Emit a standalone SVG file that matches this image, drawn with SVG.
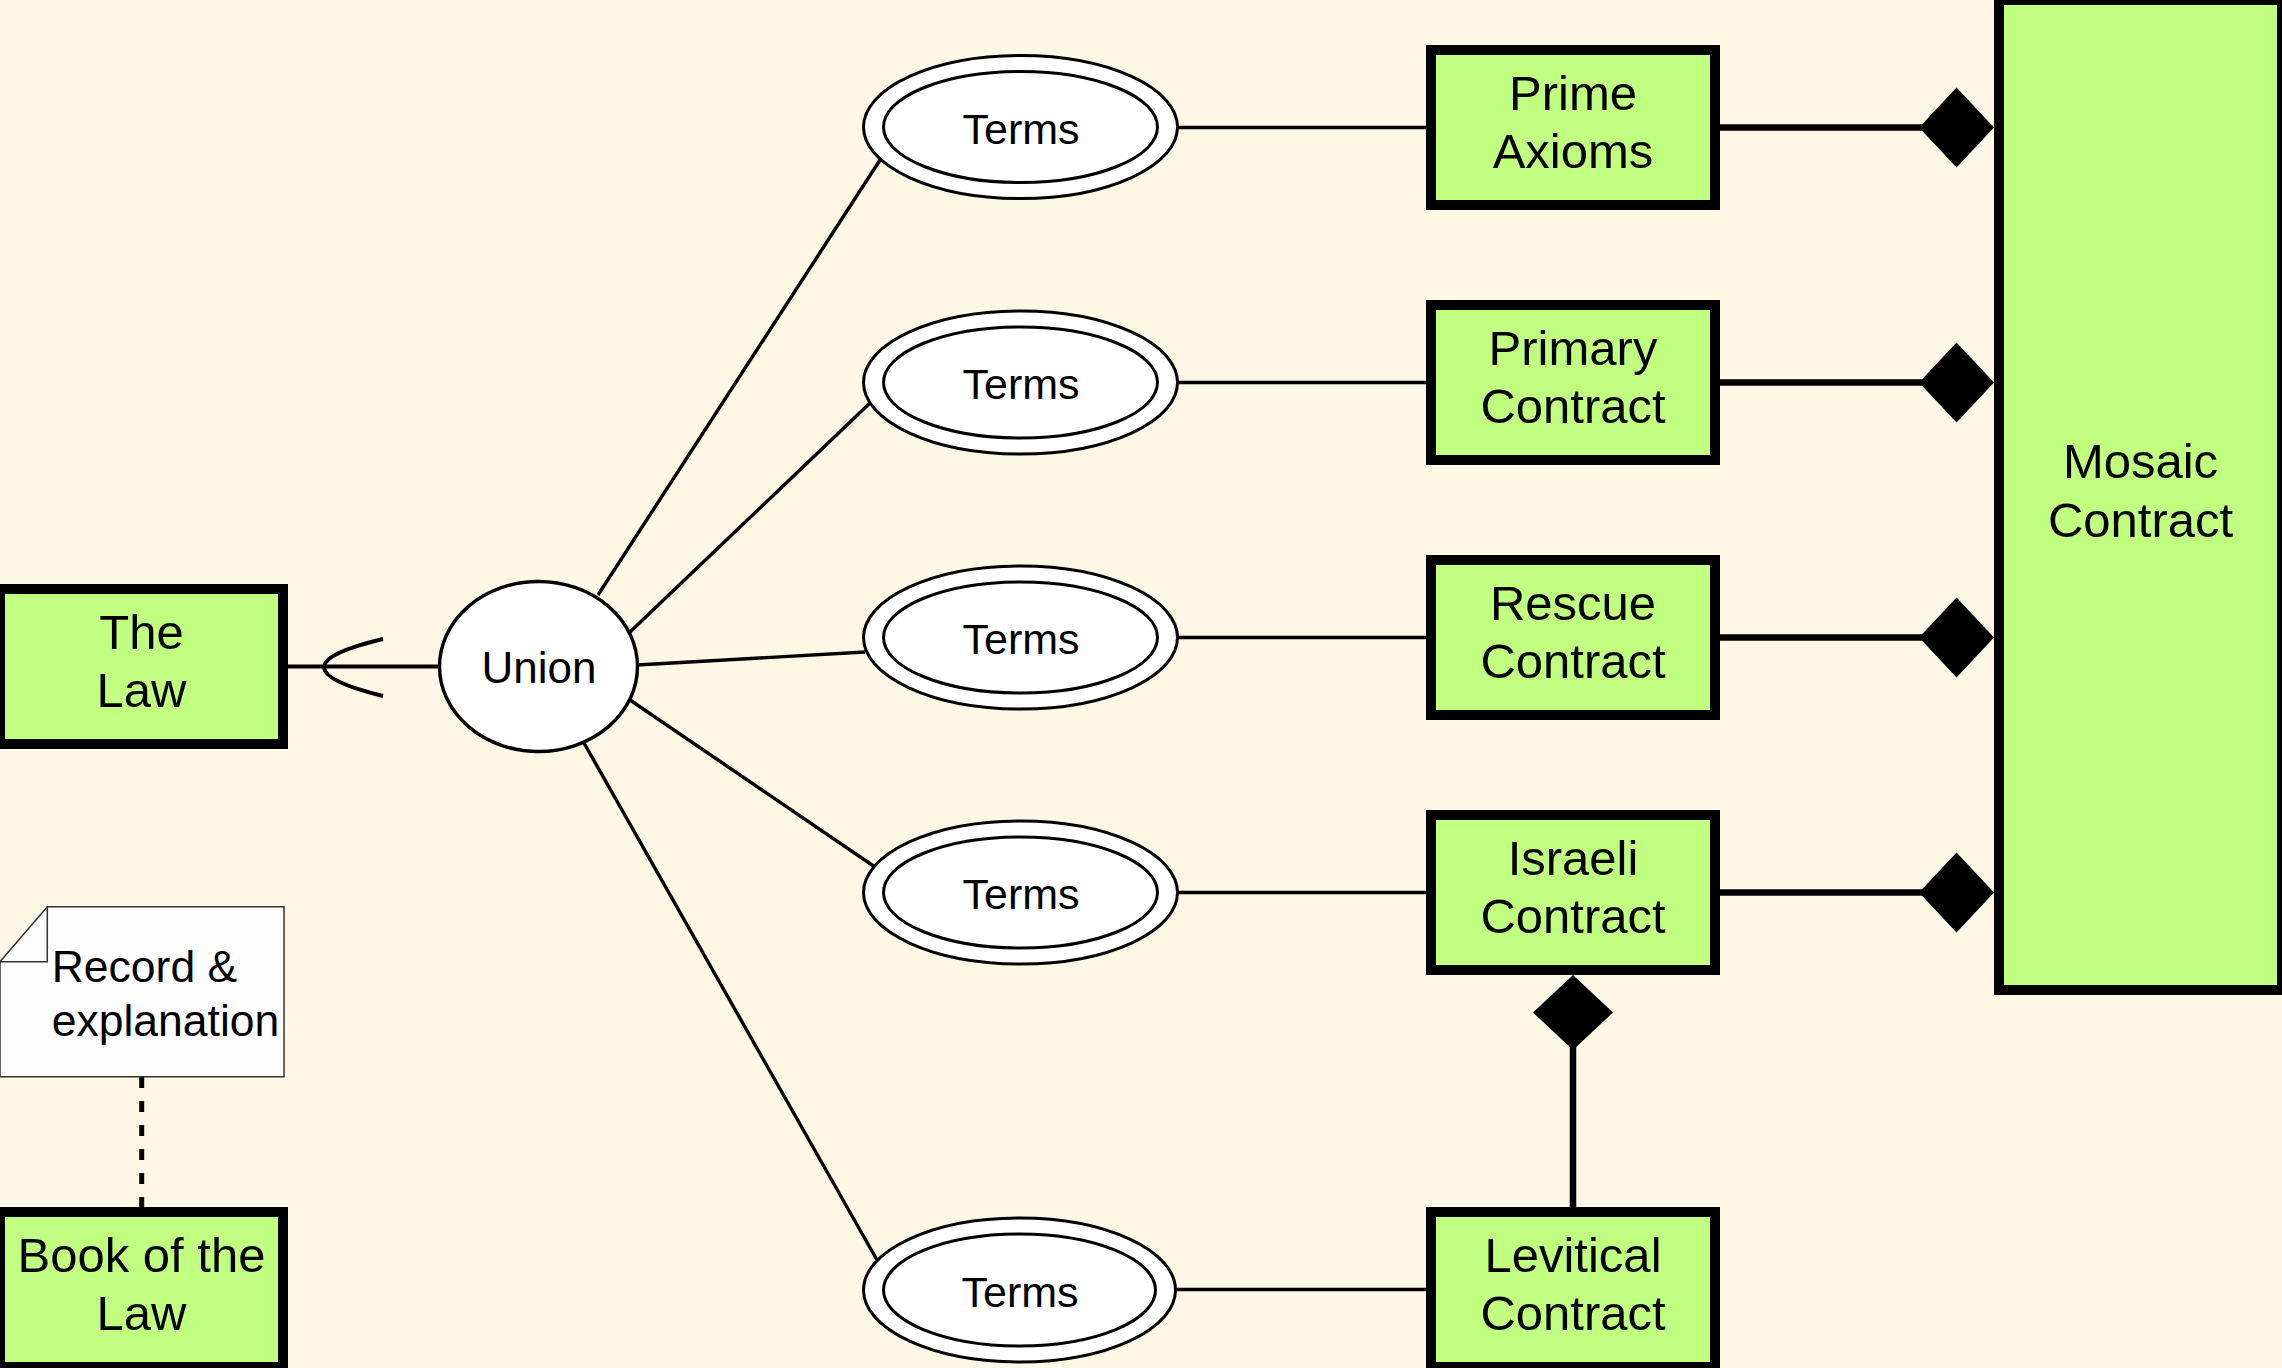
<svg xmlns="http://www.w3.org/2000/svg" width="2282" height="1368" viewBox="0 0 2282 1368">
<style>
.box{fill:#C0FF80;stroke:#000;stroke-width:10}
.t{font-family:"Liberation Sans",Arial,sans-serif;fill:#000}
.bt{font-size:49px;text-anchor:middle}
.tt{font-size:43px;text-anchor:middle}
.el{fill:#fff;stroke:#000;stroke-width:3}
.thin{stroke:#000;stroke-width:3.4;fill:none}
.thick{stroke:#000;stroke-width:6.5;fill:none}
.dia{fill:#000}
</style>
<rect width="2282" height="1368" fill="#FFF7E6"/>
<g id="connectors">
  <line class="thin" x1="288" y1="666.5" x2="440" y2="666.5" style="stroke-width:4"/>
  <path class="thin" d="M383,639 Q265,667 383,696" style="stroke-width:4"/>
  <line class="thin" x1="598" y1="595" x2="880" y2="160"/>
  <line class="thin" x1="630" y1="632" x2="870" y2="403"/>
  <line class="thin" x1="637" y1="665" x2="865" y2="652"/>
  <line class="thin" x1="630" y1="700" x2="875" y2="867"/>
  <line class="thin" x1="584" y1="743" x2="877" y2="1260"/>
  <line class="thin" x1="1177" y1="127.5" x2="1427" y2="127.5"/>
  <line class="thin" x1="1177" y1="382.5" x2="1427" y2="382.5"/>
  <line class="thin" x1="1177" y1="637.5" x2="1427" y2="637.5"/>
  <line class="thin" x1="1177" y1="892.5" x2="1427" y2="892.5"/>
  <line class="thin" x1="1175" y1="1289.5" x2="1427" y2="1289.5"/>
  <line class="thick" x1="1719" y1="127.5" x2="1925" y2="127.5"/>
  <polygon class="dia" points="1919,127.5 1956.5,87.5 1994,127.5 1956.5,167.5"/>
  <line class="thick" x1="1719" y1="382.5" x2="1925" y2="382.5"/>
  <polygon class="dia" points="1919,382.5 1956.5,342.5 1994,382.5 1956.5,422.5"/>
  <line class="thick" x1="1719" y1="637.5" x2="1925" y2="637.5"/>
  <polygon class="dia" points="1919,637.5 1956.5,597.5 1994,637.5 1956.5,677.5"/>
  <line class="thick" x1="1719" y1="892.5" x2="1925" y2="892.5"/>
  <polygon class="dia" points="1919,892.5 1956.5,852.5 1994,892.5 1956.5,932.5"/>
  <line class="thick" x1="1573" y1="1045" x2="1573" y2="1208"/>
  <polygon class="dia" points="1573,975 1613,1012.5 1573,1050 1533,1012.5"/>
  <line x1="141.7" y1="1077" x2="141.7" y2="1207" stroke="#000" stroke-width="5" stroke-dasharray="11 13"/>
</g>
<g id="the-law">
  <rect class="box" x="0" y="589" width="283" height="155"/>
  <text class="t bt" x="141.5" y="648.5">The</text>
  <text class="t bt" x="141.5" y="707">Law</text>
</g>
<g id="union">
  <ellipse cx="538.5" cy="666.5" rx="99" ry="85" fill="#fff" stroke="#000" stroke-width="3.4"/>
  <text class="t" x="539" y="683" font-size="44" text-anchor="middle">Union</text>
</g>
<g id="terms1">
  <ellipse class="el" cx="1020.5" cy="127" rx="157" ry="71.5"/>
  <ellipse class="el" cx="1020.5" cy="127" rx="137" ry="55.5"/>
  <text class="t tt" x="1021" y="143.5">Terms</text>
</g>
<g id="terms2">
  <ellipse class="el" cx="1020.5" cy="382.5" rx="157" ry="71.5"/>
  <ellipse class="el" cx="1020.5" cy="382.5" rx="137" ry="55.5"/>
  <text class="t tt" x="1021" y="399">Terms</text>
</g>
<g id="terms3">
  <ellipse class="el" cx="1020.5" cy="637.5" rx="157" ry="71.5"/>
  <ellipse class="el" cx="1020.5" cy="637.5" rx="137" ry="55.5"/>
  <text class="t tt" x="1021" y="654">Terms</text>
</g>
<g id="terms4">
  <ellipse class="el" cx="1020.5" cy="892.5" rx="157" ry="71.5"/>
  <ellipse class="el" cx="1020.5" cy="892.5" rx="137" ry="55.5"/>
  <text class="t tt" x="1021" y="909">Terms</text>
</g>
<g id="terms5">
  <ellipse class="el" cx="1019.5" cy="1290" rx="156" ry="72"/>
  <ellipse class="el" cx="1019.5" cy="1290" rx="136" ry="56"/>
  <text class="t tt" x="1020" y="1306.5">Terms</text>
</g>
<g id="prime-axioms">
  <rect class="box" x="1431" y="50" width="284" height="155"/>
  <text class="t bt" x="1573" y="110">Prime</text>
  <text class="t bt" x="1573" y="168.3">Axioms</text>
</g>
<g id="primary-contract">
  <rect class="box" x="1431" y="305" width="284" height="155"/>
  <text class="t bt" x="1573" y="365">Primary</text>
  <text class="t bt" x="1573" y="423.3">Contract</text>
</g>
<g id="rescue-contract">
  <rect class="box" x="1431" y="560" width="284" height="155"/>
  <text class="t bt" x="1573" y="620">Rescue</text>
  <text class="t bt" x="1573" y="678.3">Contract</text>
</g>
<g id="israeli-contract">
  <rect class="box" x="1431" y="815" width="284" height="155"/>
  <text class="t bt" x="1573" y="875">Israeli</text>
  <text class="t bt" x="1573" y="933.3">Contract</text>
</g>
<g id="levitical-contract">
  <rect class="box" x="1431" y="1212" width="284" height="155"/>
  <text class="t bt" x="1573" y="1272">Levitical</text>
  <text class="t bt" x="1573" y="1330.3">Contract</text>
</g>
<g id="mosaic-contract">
  <rect class="box" x="1999" y="0" width="283" height="990"/>
  <text class="t bt" x="2140.5" y="478.3">Mosaic</text>
  <text class="t bt" x="2140.5" y="536.7">Contract</text>
</g>
<g id="note">
  <path d="M47.3,906.7 H284 V1076.7 H0 V961.7 Z" fill="#FDFDFD" stroke="#333" stroke-width="1.5"/>
  <path d="M47.3,906.7 V961.7 H0" fill="none" stroke="#333" stroke-width="1.5"/>
  <text class="t" x="51.7" y="981.7" font-size="44.5">Record &amp;</text>
  <text class="t" x="51.7" y="1035.7" font-size="44.5">explanation</text>
</g>
<g id="book-of-the-law">
  <rect class="box" x="0" y="1212" width="283" height="155"/>
  <text class="t bt" x="141.5" y="1272">Book of the</text>
  <text class="t bt" x="141.5" y="1330.3">Law</text>
</g>
</svg>
